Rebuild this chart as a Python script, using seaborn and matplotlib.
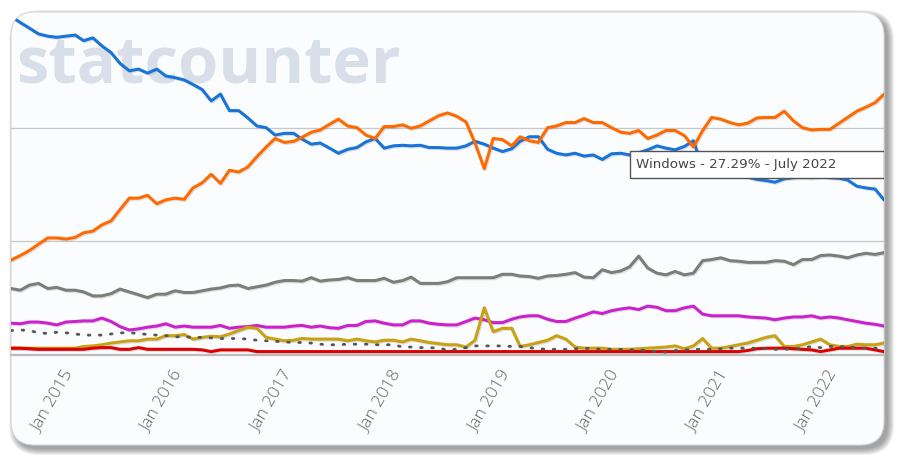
#Cuota de mercado de sistemas operativos (estilo statcounter)
import matplotlib
matplotlib.use("Agg")
import matplotlib.pyplot as plt
import matplotlib.patheffects as pe
from matplotlib.patches import FancyBboxPatch, Rectangle
from matplotlib.transforms import IdentityTransform, ScaledTranslation
import pandas as pd
import seaborn as sns

#DATOS (porcentaje mensual, jul 2014 - jul 2022)
fechas = pd.date_range("2014-07-01", "2022-07-01", freq="MS")

windows = [59.6, 58.5, 57.5, 56.5, 56.1, 55.9, 56.1, 56.3, 55.3, 55.8,
           54.4, 53.2, 51.3, 50.0, 50.3, 49.6, 50.3, 49.1, 48.8, 48.4,
           47.6, 46.7, 44.7, 45.9, 43.0, 43.0, 41.7, 40.3, 40.0, 38.7,
           39.0, 39.0, 38.0, 37.1, 37.3, 36.4, 35.5, 36.2, 36.5, 37.5,
           38.1, 36.4, 36.8, 36.9, 36.8, 36.9, 36.5, 36.5, 36.4, 36.4,
           36.8, 37.6, 37.1, 36.4, 35.8, 36.3, 37.6, 38.4, 38.4, 36.2,
           35.5, 35.2, 35.5, 35.0, 35.2, 34.4, 35.4, 35.5, 35.2, 35.6,
           36.1, 36.8, 36.4, 36.1, 36.7, 37.7, 33.0, 31.8, 31.5, 31.8,
           31.5, 31.3, 30.9, 30.7, 30.4, 31.0, 31.2, 31.3, 31.2, 31.4,
           31.2, 31.1, 30.8, 29.7, 29.4, 29.2, 27.29]

android = [16.7, 17.5, 18.4, 19.5, 20.6, 20.6, 20.4, 20.7, 21.5, 21.8,
           22.9, 23.6, 25.6, 27.6, 27.6, 28.1, 26.6, 27.3, 27.6, 27.4,
           29.4, 30.3, 31.8, 30.2, 32.5, 32.2, 33.1, 34.9, 36.6, 38.1,
           37.4, 37.6, 38.3, 39.2, 39.6, 40.6, 41.5, 40.3, 40.0, 38.7,
           38.1, 40.2, 40.2, 40.5, 39.9, 40.3, 41.2, 42.1, 42.6, 42.0,
           41.0, 37.3, 32.8, 38.1, 37.9, 36.8, 38.4, 37.7, 37.4, 40.0,
           40.3, 40.9, 40.9, 41.6, 40.9, 40.9, 40.0, 39.2, 39.0, 39.5,
           38.1, 38.7, 39.5, 39.5, 38.6, 36.6, 39.5, 41.8, 41.5, 40.9,
           40.5, 40.8, 41.7, 41.8, 41.8, 42.9, 41.2, 40.0, 39.6, 39.7,
           39.7, 40.8, 41.8, 42.9, 43.6, 44.4, 45.9]

ios = [11.7, 11.4, 12.3, 12.6, 11.7, 11.9, 11.4, 11.4, 11.1, 10.4,
       10.4, 10.8, 11.6, 11.1, 10.6, 10.1, 10.7, 10.7, 11.3, 11.0,
       11.0, 11.3, 11.6, 11.8, 12.2, 12.3, 11.7, 12.0, 12.3, 12.8,
       13.1, 13.1, 13.0, 13.6, 13.0, 13.2, 13.3, 13.6, 13.1, 13.1,
       13.1, 13.5, 12.8, 13.1, 13.7, 12.6, 12.6, 12.6, 12.9, 13.6,
       13.6, 13.6, 13.6, 13.6, 14.2, 14.2, 13.9, 13.8, 13.5, 13.9,
       14.0, 14.2, 14.5, 13.7, 13.6, 15.0, 14.5, 14.8, 15.5, 17.4,
       15.3, 14.4, 14.1, 14.7, 14.1, 14.4, 16.6, 16.8, 17.1, 16.6,
       16.5, 16.3, 16.3, 16.3, 16.6, 16.5, 15.9, 16.8, 16.8, 17.5,
       17.6, 17.4, 17.1, 17.6, 17.9, 17.7, 18.0]

osx = [5.6, 5.5, 5.8, 5.8, 5.6, 5.3, 5.8, 5.9, 6.0, 6.0,
       6.5, 5.9, 5.0, 4.4, 4.6, 4.9, 5.1, 5.5, 4.9, 5.1,
       4.9, 4.9, 4.9, 5.2, 4.7, 4.9, 5.0, 5.2, 4.9, 4.9,
       4.9, 5.1, 5.2, 4.9, 5.1, 4.8, 4.7, 5.2, 5.2, 5.9,
       6.0, 5.6, 5.3, 5.3, 6.0, 6.0, 5.6, 5.4, 5.3, 5.3,
       5.9, 6.5, 6.2, 5.7, 5.7, 6.3, 6.7, 6.9, 6.9, 6.3,
       5.9, 5.9, 6.5, 7.0, 7.6, 7.3, 7.8, 8.1, 8.3, 8.0,
       8.6, 8.4, 7.8, 7.8, 8.3, 8.6, 7.2, 6.9, 6.9, 6.9,
       6.9, 6.7, 6.6, 6.5, 6.2, 6.5, 6.7, 6.7, 6.9, 6.5,
       6.7, 6.5, 6.2, 5.9, 5.6, 5.4, 5.1]

unknown = [1.2, 1.2, 1.2, 1.2, 1.2, 1.2, 1.2, 1.2, 1.5, 1.6,
           1.8, 2.1, 2.3, 2.5, 2.5, 2.8, 2.8, 3.4, 3.4, 3.6,
           2.8, 3.1, 3.3, 3.2, 3.7, 4.3, 4.9, 4.7, 3.1, 2.8,
           2.5, 2.6, 2.9, 2.8, 2.8, 2.8, 2.8, 2.5, 2.8, 2.5,
           2.3, 2.6, 2.6, 2.3, 2.8, 2.5, 2.2, 2.0, 1.8, 1.8,
           1.4, 2.6, 8.3, 4.1, 4.7, 4.7, 1.5, 1.8, 2.2, 2.6,
           3.4, 2.8, 1.4, 1.2, 1.2, 1.2, 1.0, 1.0, 1.0, 1.1,
           1.2, 1.3, 1.4, 1.6, 1.1, 1.6, 2.9, 1.2, 1.2, 1.5,
           1.8, 2.1, 2.6, 3.1, 3.4, 1.5, 1.5, 1.8, 2.3, 2.8,
           1.8, 1.5, 1.5, 1.9, 1.8, 1.8, 2.1]

linux = [4.3, 4.4, 4.3, 3.9, 3.8, 4.0, 3.9, 3.7, 3.5, 3.5,
         3.5, 3.7, 3.9, 3.9, 3.8, 3.6, 3.5, 3.4, 3.2, 3.2,
         3.1, 3.1, 3.0, 2.9, 2.9, 2.9, 2.8, 2.6, 2.5, 2.4,
         2.3, 2.2, 2.2, 2.1, 1.9, 1.8, 1.8, 1.9, 1.9, 1.9,
         1.8, 1.8, 1.8, 1.4, 1.4, 1.3, 1.3, 1.2, 0.9, 1.0,
         1.3, 1.6, 1.6, 1.6, 1.6, 1.5, 1.5, 1.3, 1.1, 1.0,
         1.0, 1.0, 1.1, 1.2, 1.1, 1.0, 1.0, 1.0, 0.9, 0.9,
         0.8, 0.6, 0.5, 0.8, 0.9, 1.0, 1.0, 1.0, 1.1, 1.2,
         1.2, 1.2, 1.2, 1.1, 1.0, 1.0, 1.1, 1.2, 1.5, 1.3,
         1.5, 1.5, 1.4, 1.3, 1.2, 1.2, 1.0]

otros = [1.2, 1.2, 1.1, 1.0, 1.0, 1.0, 1.0, 1.0, 1.0, 1.2,
         1.3, 1.3, 1.0, 1.0, 1.3, 1.0, 1.0, 1.0, 1.0, 1.0,
         1.0, 0.9, 0.6, 0.9, 0.9, 0.9, 0.9, 0.6, 0.6, 0.6,
         0.6, 0.6, 0.6, 0.6, 0.6, 0.6, 0.6, 0.6, 0.6, 0.6,
         0.6, 0.6, 0.6, 0.6, 0.6, 0.6, 0.6, 0.6, 0.6, 0.6,
         0.6, 0.6, 0.6, 0.6, 0.6, 0.6, 0.6, 0.6, 0.6, 0.6,
         0.6, 0.6, 0.6, 0.6, 0.6, 0.6, 0.6, 0.6, 0.6, 0.6,
         0.6, 0.6, 0.6, 0.6, 0.6, 0.6, 0.6, 0.6, 0.6, 0.6,
         0.6, 0.8, 1.1, 1.2, 1.2, 1.2, 1.1, 1.0, 0.9, 0.6,
         0.9, 1.2, 1.2, 1.2, 1.2, 0.9, 0.6]

anios = ["2015", "2016", "2017", "2018", "2019", "2020", "2021", "2022"]
tooltip = "Windows - 27.29% - July 2022"

#ESTILO
sns.set_style("white")
plt.rcParams["font.family"] = ["Open Sans", "DejaVu Sans"]

fig = plt.figure(figsize=(9.04, 4.65), dpi=100)
fig.patch.set_facecolor("white")
px = IdentityTransform()

#Sombra y tarjeta redondeada
for i in range(7):
    sombra = FancyBboxPatch((11 + 4 - i, 20 - 4 - i), 873 + 2 * i, 433 + 2 * i,
                            boxstyle="round,pad=0,rounding_size=%d" % (24 + i),
                            transform=px, facecolor="black", edgecolor="none",
                            alpha=0.06, zorder=-3)
    fig.add_artist(sombra)
tarjeta = FancyBboxPatch((11, 20), 873, 433, boxstyle="round,pad=0,rounding_size=24",
                         transform=px, facecolor="#fbfcfe", edgecolor="#d8d8d8",
                         linewidth=0.8, zorder=-1)
fig.add_artist(tarjeta)

#Marca de agua
fig.text(16, 383, "statcounter", transform=px, fontsize=47, fontweight="bold",
         color="#d9dfe9", va="baseline", ha="left", zorder=-0.5)

ax = fig.add_axes([11 / 904, 110 / 465, 873 / 904, 341 / 465])
ax.patch.set_alpha(0)

sombra_linea = [pe.SimpleLineShadow(offset=(0.8, -0.8), alpha=0.2, shadow_color="#666"), pe.Normal()]

series = [
    (windows, "#1874d8"),
    (android, "#ff6a00"),
    (ios, "#7d7e79"),
    (osx, "#cc22cc"),
    (unknown, "#c9a114"),
    (otros, "#dd0000"),
]
for valores, color in series:
    sns.lineplot(x=fechas, y=valores, ax=ax, color=color, linewidth=2.2,
                 path_effects=sombra_linea)
sns.lineplot(x=fechas, y=linux, ax=ax, color="#555555", linewidth=2.0,
             linestyle=(0, (0.6, 3.4)), dash_capstyle="round")

for ln in ax.lines:
    ln.set_clip_path(tarjeta)

#Lineas de referencia
ax.axhline(20, color="#c8c8c8", linewidth=0.9, zorder=0)
ax.axhline(40, color="#c8c8c8", linewidth=0.9, zorder=0)
ax.axhline(0, color="#bcbcbc", linewidth=1.6, zorder=0, clip_on=False)

ax.set_xlim(fechas[0], fechas[-1])
ax.set_ylim(0, 60)
ax.set_yticks([])
ax.set_xlabel("")
ax.set_ylabel("")
for s in ax.spines.values():
    s.set_visible(False)

eneros = [pd.Timestamp(a + "-01-01") for a in anios]
ax.set_xticks(eneros)
ax.set_xticklabels(["Jan " + a for a in anios], rotation=60, ha="right", va="center",
                   rotation_mode="anchor", color="#666666", fontsize=12.5,
                   fontweight="light")
ax.tick_params(axis="x", length=0, pad=12)
#pequeño corrimiento a la derecha de las etiquetas
desplazar = ScaledTranslation(4 / 100, 0, fig.dpi_scale_trans)
for lbl in ax.get_xticklabels():
    lbl.set_transform(lbl.get_transform() + desplazar)

#Tooltip
caja = Rectangle((630, 287), 254, 27.5, transform=px, facecolor="white",
                 edgecolor="#555555", linewidth=1, zorder=5)
fig.add_artist(caja)
caja.set_clip_path(tarjeta)
fig.text(636, 301, tooltip, transform=px, fontsize=9.6, color="#444444",
         family="DejaVu Sans", va="center", ha="left", zorder=6)

plt.savefig("out.png", dpi=100)
